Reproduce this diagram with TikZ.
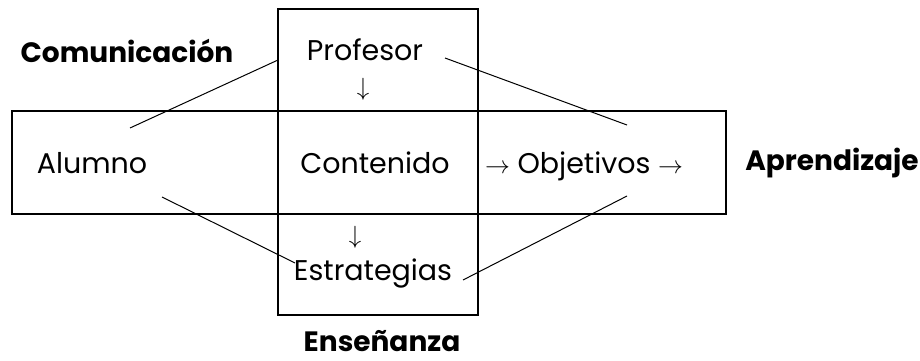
\documentclass[tikz,border=0pt]{standalone}
\usepackage{fontspec}
\setmainfont{Poppins}
\begin{document}
\begin{tikzpicture}[x=1pt,y=-1pt,
  boxframe/.style={draw, line width=1.4pt, inner sep=0pt},
  lbl/.style={font=\fontsize{28.5}{32}\selectfont, inner sep=0pt, anchor=base},
  arr/.style={font=\fontsize{25}{28}\selectfont, inner sep=0pt, anchor=base},
  blbl/.style={font=\fontsize{28}{32}\selectfont\bfseries, inner sep=0pt, anchor=base},
  link/.style={line width=1pt}]
\useasboundingbox (0,0) rectangle (920,361);
% boxes
\node[boxframe, minimum width=200pt, minimum height=306pt] (vbox) at (378,162) {};
\node[boxframe, minimum width=714pt, minimum height=103pt] (hbox) at (369,162.5) {};
% labels
\node[blbl] (com) at (127,63) {Comunicación};
\node[lbl] (prof) at (365,60) {Profesor};
\node[arr] (d1) at (363,95) {$\downarrow$};
\node[lbl] (alu) at (92,173) {Alumno};
\node[lbl] (cont) at (375,173) {Contenido};
\node[lbl] (obj) at (584,173) {$\rightarrow$ Objetivos $\rightarrow$};
\node[blbl] (apr) at (832,170) {Aprendizaje};
\node[arr] (d2) at (355,243) {$\downarrow$};
\node[lbl] (est) at (373,280) {Estrategias};
\node[blbl] (ens) at (382,351) {Enseñanza};
% connector ends
\coordinate (p1) at (278,60);
\coordinate (a1) at (130,128);
\coordinate (a2) at (162,197);
\coordinate (e1) at (295,263);
\coordinate (p2) at (445,58);
\coordinate (o1) at (627,125);
\coordinate (e2) at (463,280);
\coordinate (o2) at (627,196);
\draw[link] (p1) -- (a1);
\draw[link] (a2) -- (e1);
\draw[link] (p2) -- (o1);
\draw[link] (e2) -- (o2);
\end{tikzpicture}
\end{document}
